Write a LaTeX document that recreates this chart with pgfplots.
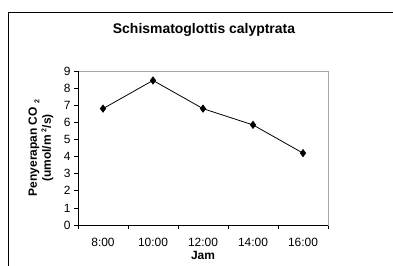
\documentclass[border=0pt]{standalone}
\usepackage{fontspec}
\setmainfont{Liberation Sans}
\usepackage{pgfplots}
\pgfplotsset{compat=1.18}
\begin{document}
\begin{tikzpicture}[x=1bp,y=1bp]
\useasboundingbox (0,0) rectangle (393,266);
\draw[black, line width=0.9bp] (8,0) -- (8,254) -- (393,254);
\node[font=\bfseries\fontsize{14}{16}\selectfont] at (204,236) {Schismatoglottis calyptrata};
\begin{axis}[
  at={(78bp,41bp)}, anchor=south west,
  width=250bp, height=154bp, scale only axis,
  xmin=-0.5, xmax=4.5, ymin=0, ymax=9,
  xtick={0,1,2,3,4},
  xticklabels={8:00,10:00,12:00,14:00,16:00},
  minor xtick={-0.5,0.5,1.5,2.5,3.5,4.5},
  major x tick style={draw=none},
  minor x tick style={black, line width=0.6bp},
  ytick={0,1,...,9},
  y tick style={black, line width=0.6bp},
  tick align=outside, tick pos=left,
  major tick length=4bp, minor tick length=4bp,
  axis line style={draw=gray!70, line width=0.8bp},
  ticklabel style={font=\fontsize{12}{14}\selectfont},
  /pgf/number format/assume math mode=true,
  xticklabel style={yshift=-6bp},
  xlabel={\bfseries Jam},
  xlabel style={font=\fontsize{12}{14}\selectfont, yshift=3bp},
  ylabel={\bfseries\begin{tabular}{c}Penyerapan CO \raisebox{-0.4ex}{\fontsize{7}{8}\selectfont 2}\\(umol/m \raisebox{0.7ex}{\fontsize{7}{8}\selectfont 2}/s)\end{tabular}},
  ylabel style={font=\fontsize{12}{14}\selectfont, yshift=2bp},
  clip=false,
]
\addplot[black, line width=0.8bp, mark=diamond*, mark size=3.5bp, mark options={fill=black}] coordinates {
  (0,6.8) (1,8.45) (2,6.8) (3,5.85) (4,4.2)
};
\draw[black, line width=0.8bp] (rel axis cs:0,1) -- (rel axis cs:0,0) -- (rel axis cs:1,0);
\end{axis}
\end{tikzpicture}
\end{document}
